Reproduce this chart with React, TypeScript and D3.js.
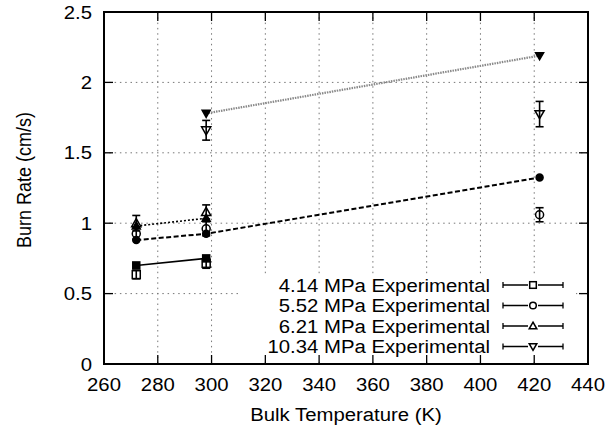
import React from "react";
import * as d3 from "d3";

const xTicks = [260, 280, 300, 320, 340, 360, 380, 400, 420, 440];
const yTicks = [0, 0.5, 1, 1.5, 2, 2.5];
const yTickLabels = ["0", "0.5", "1", "1.5", "2", "2.5"];

const legendLabels = [
  "4.14 MPa Experimental",
  "5.52 MPa Experimental",
  "6.21 MPa Experimental",
  "10.34 MPa Experimental",
];
const markerShapes = ["square", "circle", "triangle", "itriangle"];

const expTemps = [[272, 298], [272, 298, 422], [272, 298], [298, 422]];
const expValues = [[0.635, 0.715], [0.925, 0.96, 1.06], [1.0, 1.08], [1.66, 1.775]];
const expErrors = [[0.03, 0.035], [0.04, 0.05, 0.05], [0.055, 0.05], [0.07, 0.09]];

const modelTemps = [[272, 298], [272, 298, 422], [272, 298], [298, 422]];
const modelValues = [[0.7, 0.75], [0.88, 0.925, 1.325], [0.98, 1.035], [1.78, 2.19]];

const lineColors = ["#000", "#000", "#000", "#888"];
const lineDash = ["none", "5,2.5", "2,2", "1.5,1"];
const lineWidths = [1.6, 2, 1.6, 2.2];

const W = 609, H = 432;
const L = 104, R = 588, T = 12, B = 364;
const SX = 1.13;
const FONT = "'Liberation Sans', Arial, Helvetica, sans-serif";

function Marker({ shape, x, y, filled, s = 4.2 }: any) {
  const fill = filled ? "#000" : "none";
  const sw = 1.5;
  if (shape === "square")
    return <rect x={x - s} y={y - s} width={2 * s} height={2 * s} fill={fill} stroke="#000" strokeWidth={sw} />;
  if (shape === "circle")
    return <circle cx={x} cy={y} r={s} fill={fill} stroke="#000" strokeWidth={sw} />;
  const h = s * 1.15;
  if (shape === "triangle")
    return <path d={`M${x},${y - h}L${x + h},${y + h * 0.75}L${x - h},${y + h * 0.75}Z`} fill={fill} stroke="#000" strokeWidth={sw} />;
  return <path d={`M${x},${y + h}L${x + h},${y - h * 0.75}L${x - h},${y - h * 0.75}Z`} fill={fill} stroke="#000" strokeWidth={sw} />;
}

function SText({ x, y, anchor = "middle", size = 18, children, rotate = 0 }: any) {
  const tf = rotate
    ? `translate(${x},${y}) rotate(${rotate}) scale(1,${SX})`
    : `translate(${x},${y}) scale(${SX},1)`;
  return (
    <text transform={tf} textAnchor={anchor} fontFamily={FONT} fontSize={size} fill="#000">
      {children}
    </text>
  );
}

export default function App() {
  const x = d3.scaleLinear().domain([260, 440]).range([L, R]);
  const y = d3.scaleLinear().domain([0, 2.5]).range([B, T]);
  const line = d3.line<[number, number]>().x((d) => x(d[0])).y((d) => y(d[1]));
  const tick = 9;
  const gridStyle = { stroke: "#777", strokeWidth: 1, strokeDasharray: "1.5,3.8" };

  const legX = 490, legRow0 = 285, legStep = 20.5;

  return (
    <svg width={W} height={H} style={{ position: "absolute", left: 0, top: 0, background: "#fff" }}>
      <rect width={W} height={H} fill="#fff" />
      {/* grid */}
      {xTicks.slice(1, -1).map((t) => (
        <line key={"gx" + t} x1={x(t)} x2={x(t)} y1={T} y2={B} {...gridStyle} />
      ))}
      {yTicks.slice(1, -1).map((t) => (
        <line key={"gy" + t} x1={L} x2={R} y1={y(t)} y2={y(t)} {...gridStyle} />
      ))}
      {/* legend background */}
      <rect x={240} y={275} width={336} height={84} fill="#fff" />
      {/* model lines */}
      {modelTemps.map((ts, i) => (
        <path
          key={"ml" + i}
          d={line(ts.map((t, j) => [t, modelValues[i][j]] as [number, number])) || ""}
          fill="none"
          stroke={lineColors[i]}
          strokeWidth={lineWidths[i]}
          strokeDasharray={lineDash[i]}
        />
      ))}
      {/* model markers */}
      {modelTemps.map((ts, i) =>
        ts.map((t, j) => (
          <Marker key={"mm" + i + j} shape={markerShapes[i]} x={x(t)} y={y(modelValues[i][j])} filled s={3.5} />
        ))
      )}
      {/* experimental with error bars */}
      {expTemps.map((ts, i) =>
        ts.map((t, j) => {
          const cx = x(t);
          const v = expValues[i][j];
          const e = expErrors[i][j];
          return (
            <g key={"ex" + i + j}>
              <line x1={cx} x2={cx} y1={y(v - e)} y2={y(v + e)} stroke="#000" strokeWidth={1.6} />
              <line x1={cx - 4} x2={cx + 4} y1={y(v - e)} y2={y(v - e)} stroke="#000" strokeWidth={1.6} />
              <line x1={cx - 4} x2={cx + 4} y1={y(v + e)} y2={y(v + e)} stroke="#000" strokeWidth={1.6} />
              <Marker shape={markerShapes[i]} x={cx} y={y(v)} filled={false} s={4} />
            </g>
          );
        })
      )}
      {/* legend */}
      {legendLabels.map((lab, i) => {
        const ly = legRow0 + i * legStep;
        return (
          <g key={"lg" + i}>
            <SText x={legX} y={ly + 6.5} anchor="end">{lab}</SText>
            <line x1={503} x2={563} y1={ly} y2={ly} stroke="#000" strokeWidth={1.3} />
            <line x1={503} x2={503} y1={ly - 3} y2={ly + 3} stroke="#000" strokeWidth={1.3} />
            <line x1={563} x2={563} y1={ly - 3} y2={ly + 3} stroke="#000" strokeWidth={1.3} />
            <rect x={528} y={ly - 5} width={10} height={10} fill="#fff" />
            <Marker shape={markerShapes[i]} x={533} y={ly} filled={false} s={3.3} />
          </g>
        );
      })}
      {/* border */}
      <rect x={L} y={T} width={R - L} height={B - T} fill="none" stroke="#000" strokeWidth={2} />
      {/* ticks */}
      {xTicks.map((t) => (
        <g key={"xt" + t}>
          <line x1={x(t)} x2={x(t)} y1={B} y2={B - tick} stroke="#000" strokeWidth={1.3} />
          <line x1={x(t)} x2={x(t)} y1={T} y2={T + tick} stroke="#000" strokeWidth={1.3} />
          <SText x={x(t)} y={391}>{String(t)}</SText>
        </g>
      ))}
      {yTicks.map((t, i) => (
        <g key={"yt" + t}>
          <line x1={L} x2={L + tick} y1={y(t)} y2={y(t)} stroke="#000" strokeWidth={1.3} />
          <line x1={R} x2={R - tick} y1={y(t)} y2={y(t)} stroke="#000" strokeWidth={1.3} />
          <SText x={92} y={y(t) + 6.5} anchor="end">{yTickLabels[i]}</SText>
        </g>
      ))}
      {/* axis titles */}
      <SText x={346} y={421}>Bulk Temperature (K)</SText>
      <SText x={31} y={180} rotate={-90}>Burn Rate (cm/s)</SText>
    </svg>
  );
}
